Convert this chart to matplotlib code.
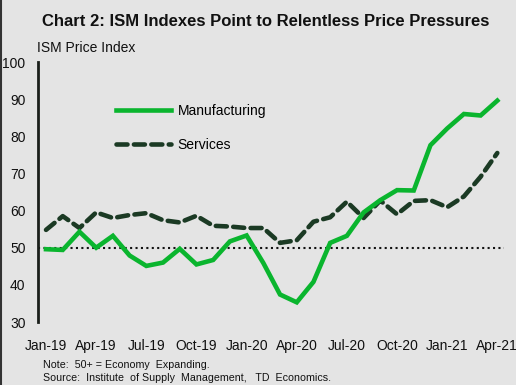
import matplotlib
matplotlib.use("Agg")
import matplotlib.pyplot as plt
from matplotlib.lines import Line2D

plt.rcParams["font.family"] = ["Liberation Sans", "DejaVu Sans"]

BG = "#e4e4e4"
MCOL, SCOL = "#0ab52e", "#1b3a24"

months = ["Jan-19", "Feb-19", "Mar-19", "Apr-19", "May-19", "Jun-19", "Jul-19", "Aug-19",
          "Sep-19", "Oct-19", "Nov-19", "Dec-19", "Jan-20", "Feb-20", "Mar-20", "Apr-20",
          "May-20", "Jun-20", "Jul-20", "Aug-20", "Sep-20", "Oct-20", "Nov-20", "Dec-20",
          "Jan-21", "Feb-21", "Mar-21", "Apr-21"]
manufacturing = [49.6, 49.4, 54.3, 50.0, 53.2, 47.9, 45.1, 46.0, 49.7, 45.5, 46.7, 51.7,
                 53.3, 45.9, 37.4, 35.3, 40.8, 51.3, 53.2, 59.5, 62.8, 65.5, 65.4, 77.6,
                 82.1, 86.0, 85.6, 89.6]
services = [54.8, 58.5, 55.3, 59.5, 58.0, 58.8, 59.3, 57.4, 56.8, 58.6, 55.9, 55.7,
            55.3, 55.3, 51.3, 52.0, 57.0, 58.2, 62.4, 58.0, 62.7, 59.0, 62.6, 62.8,
            60.9, 63.8, 69.1, 75.5]

fig = plt.figure(figsize=(5.16, 3.85), dpi=100, facecolor=BG)
ax = fig.add_axes([38 / 516, 63 / 385, 466 / 516, 260 / 385], facecolor=BG)

x = range(len(months))
ax.axhline(50, color="#111111", lw=1.5, ls=(0, (1, 1.6)), zorder=1)
ax.plot(x, manufacturing, color=MCOL, lw=3.3, label="Manufacturing", zorder=3,
        solid_joinstyle="miter")
ax.plot(x, services, color=SCOL, lw=3.3, ls=(0, (2.4, 1.4)), label="Services", zorder=2,
        dash_capstyle="round")

ax.set_xlim(-0.48, 27.4)
ax.set_ylim(30, 100)
ax.set_yticks(range(30, 101, 10))
ax.set_xticks(list(x)[::3])
ax.set_xticklabels(months[::3])
ax.tick_params(axis="both", length=0, labelsize=10, colors="#111111")
ax.tick_params(axis="x", pad=12)
ax.tick_params(axis="y", pad=9)
for s in ["top", "right", "bottom"]:
    ax.spines[s].set_visible(False)
ax.spines["left"].set_color("#1a1f1a")
ax.spines["left"].set_linewidth(2)

ax.legend(loc="upper left", bbox_to_anchor=(0.1416, 0.886), frameon=False, fontsize=10,
          handlelength=3.9, handletextpad=0.5, labelspacing=1.4)

fig.text(0.515, 0.943, "Chart 2: ISM Indexes Point to Relentless Price Pressures",
         ha="center", va="center", fontsize=12.0, fontweight="bold", color="#111111")
fig.text(37 / 516, 1 - 48 / 385, "ISM Price Index", ha="left", va="center", fontsize=10,
         color="#111111")
fig.text(43 / 516, 1 - 365 / 385, "Note:  50+ = Economy  Expanding.", ha="left",
         va="center", fontsize=7.7, color="#111111")
fig.text(43 / 516, 1 - 378 / 385, "Source:  Institute  of Supply  Management,   TD  Economics.",
         ha="left", va="center", fontsize=7.7, color="#111111")
fig.add_artist(Line2D([0.002, 0.002], [0, 1], transform=fig.transFigure, color="#333333", lw=1.5))

fig.savefig("out.png", dpi=100, facecolor=BG)
